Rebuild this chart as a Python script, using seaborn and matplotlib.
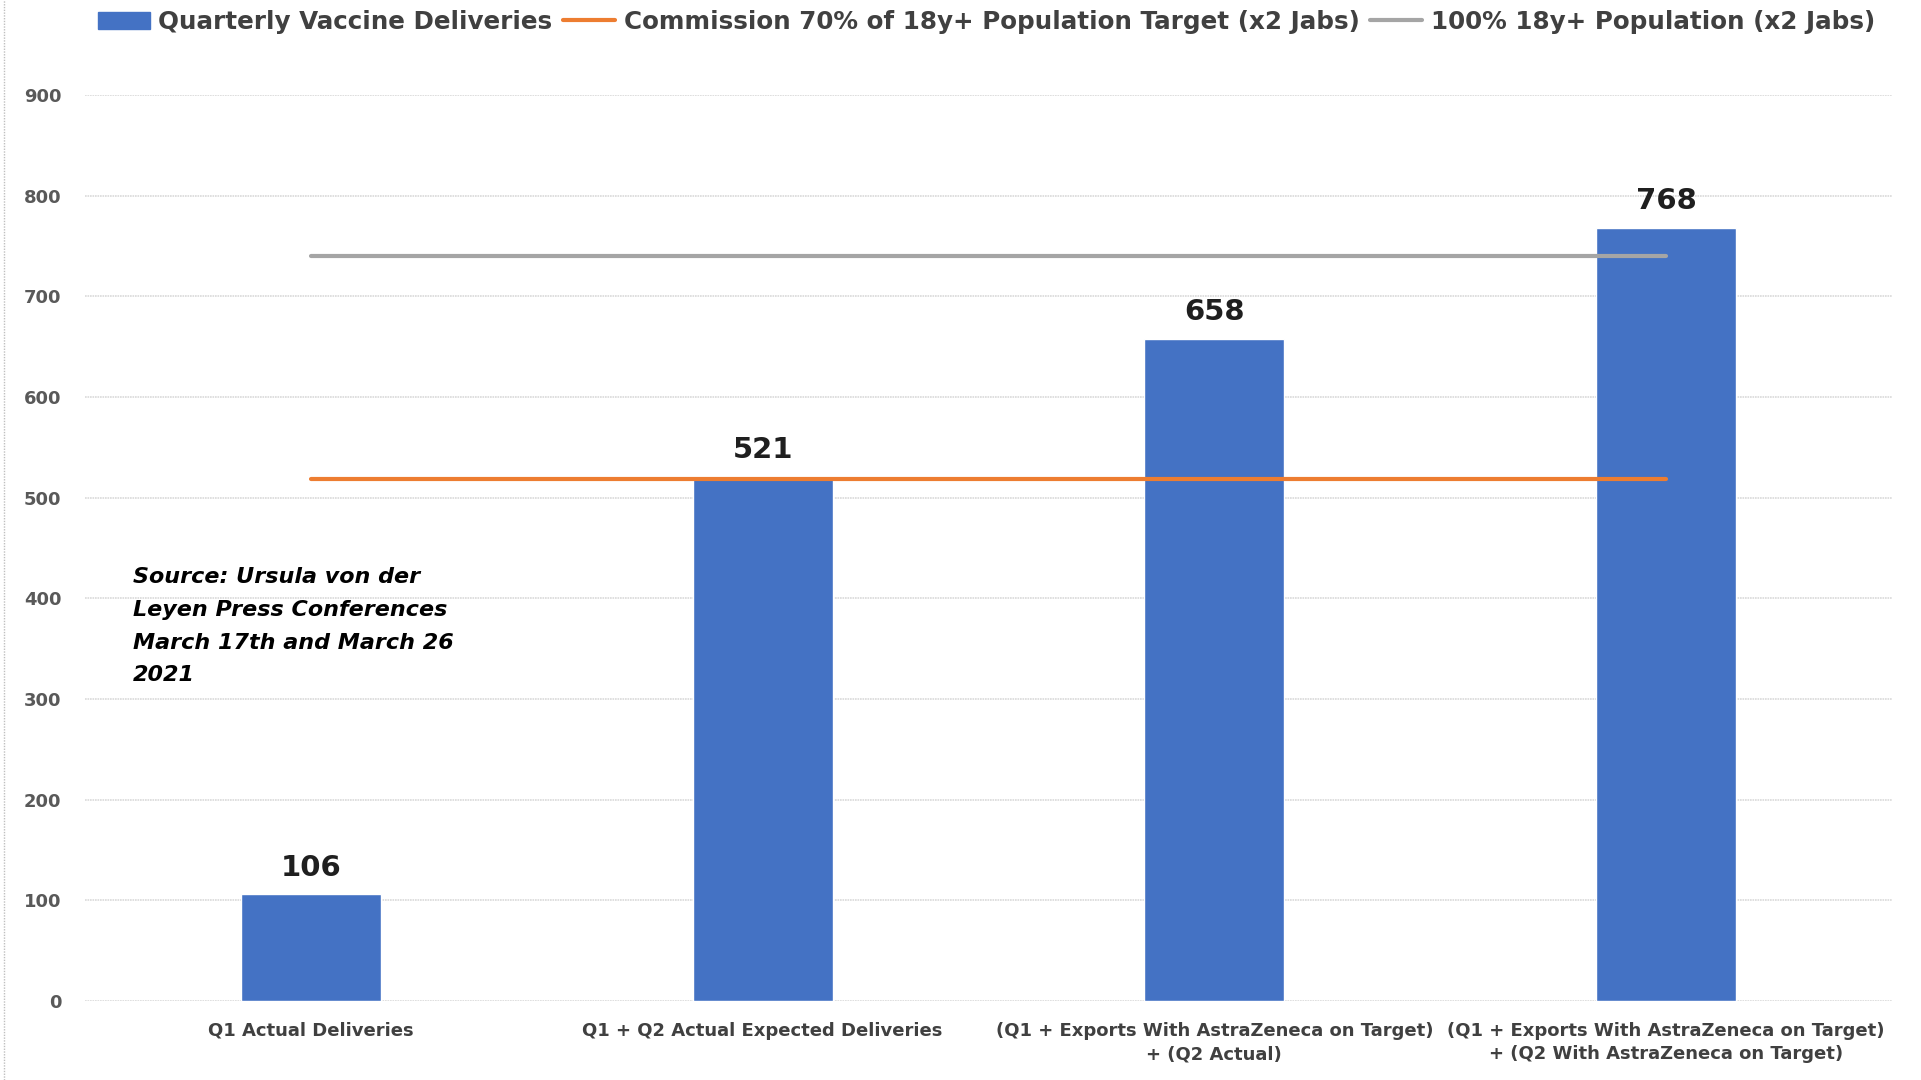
import matplotlib
matplotlib.use("Agg")
import matplotlib.pyplot as plt
import seaborn as sns
import numpy as np
import pandas as pd
from matplotlib.patches import Patch
from matplotlib.lines import Line2D

categories = [
    "Q1 Actual Deliveries",
    "Q1 + Q2 Actual Expected Deliveries",
    "(Q1 + Exports With AstraZeneca on Target)\n+ (Q2 Actual)",
    "(Q1 + Exports With AstraZeneca on Target)\n+ (Q2 With AstraZeneca on Target)",
]
deliveries = [106, 521, 658, 768]
target_70 = [519, 519, 519, 519]
population_100 = [740, 740, 740, 740]
y_ticks = [0, 100, 200, 300, 400, 500, 600, 700, 800, 900]

legend_labels = [
    "Quarterly Vaccine Deliveries",
    "Commission 70% of 18y+ Population Target (x2 Jabs)",
    "100% 18y+ Population (x2 Jabs)",
]
note = "Source: Ursula von der\nLeyen Press Conferences\nMarch 17th and March 26\n2021"

BLUE = "#4472C4"
ORANGE = "#ED7D31"
GRAY = "#A5A5A5"

sns.set_theme(style="white")
plt.rcParams['font.family'] = ['DejaVu Sans']

fig = plt.figure(figsize=(19.21, 10.8), dpi=100)
ax = fig.add_axes([0.0442, 0.0731, 0.9407, 0.839])

df = pd.DataFrame({"cat": categories, "val": deliveries})
sns.barplot(data=df, x="cat", y="val", color=BLUE, width=0.31, ax=ax,
            saturation=1, zorder=2)

pos = np.arange(len(categories))
sns.lineplot(x=pos, y=target_70, color=ORANGE, linewidth=3.0, ax=ax, zorder=3)
sns.lineplot(x=pos, y=population_100, color=GRAY, linewidth=3.0, ax=ax, zorder=3)

for c in ax.containers:
    ax.bar_label(c, labels=[str(v) for v in deliveries], padding=9,
                 fontsize=21, fontweight='bold', color='#1F1F1F')

ax.set_xlim(-0.5, 3.5)
ax.set_ylim(0, 900)
ax.set_yticks(y_ticks)
ax.set_yticklabels([str(t) for t in y_ticks], fontsize=13, fontweight='bold', color='#595959')
ax.set_xticks(pos)
ax.set_xticklabels(categories, fontsize=13, fontweight='bold', color='#404040',
                   linespacing=1.4)
ax.tick_params(axis='y', length=0, pad=17)
ax.tick_params(axis='x', length=0, pad=15)
ax.set_xlabel("")
ax.set_ylabel("")
ax.grid(axis='y', color='#D9D9D9', linewidth=1.2, linestyle=(0, (1, 0.5)))
ax.set_axisbelow(True)
for s in ax.spines.values():
    s.set_visible(False)

ax.text(0.0266, 0.479, note, transform=ax.transAxes, fontsize=16,
        fontweight='bold', fontstyle='italic', color='black',
        va='top', ha='left', linespacing=1.8)

handles = [
    Patch(facecolor=BLUE, edgecolor=BLUE),
    Line2D([0], [0], color=ORANGE, linewidth=3.0),
    Line2D([0], [0], color=GRAY, linewidth=3.0),
]
leg = fig.legend(handles, legend_labels, loc='center', bbox_to_anchor=(0.5135, 0.9796),
                 ncol=3, frameon=False, handlelength=2.1,
                 handletextpad=0.35, columnspacing=0.45,
                 prop={'weight': 'bold', 'size': 17.7})
for t in leg.get_texts():
    t.set_color('#404040')

fig.add_artist(Line2D([0.002, 0.002], [0.0, 1.0], transform=fig.transFigure,
                      color='#BFBFBF', linewidth=1.0, linestyle=(0, (1, 1))))

fig.savefig("out.png", dpi=100)
